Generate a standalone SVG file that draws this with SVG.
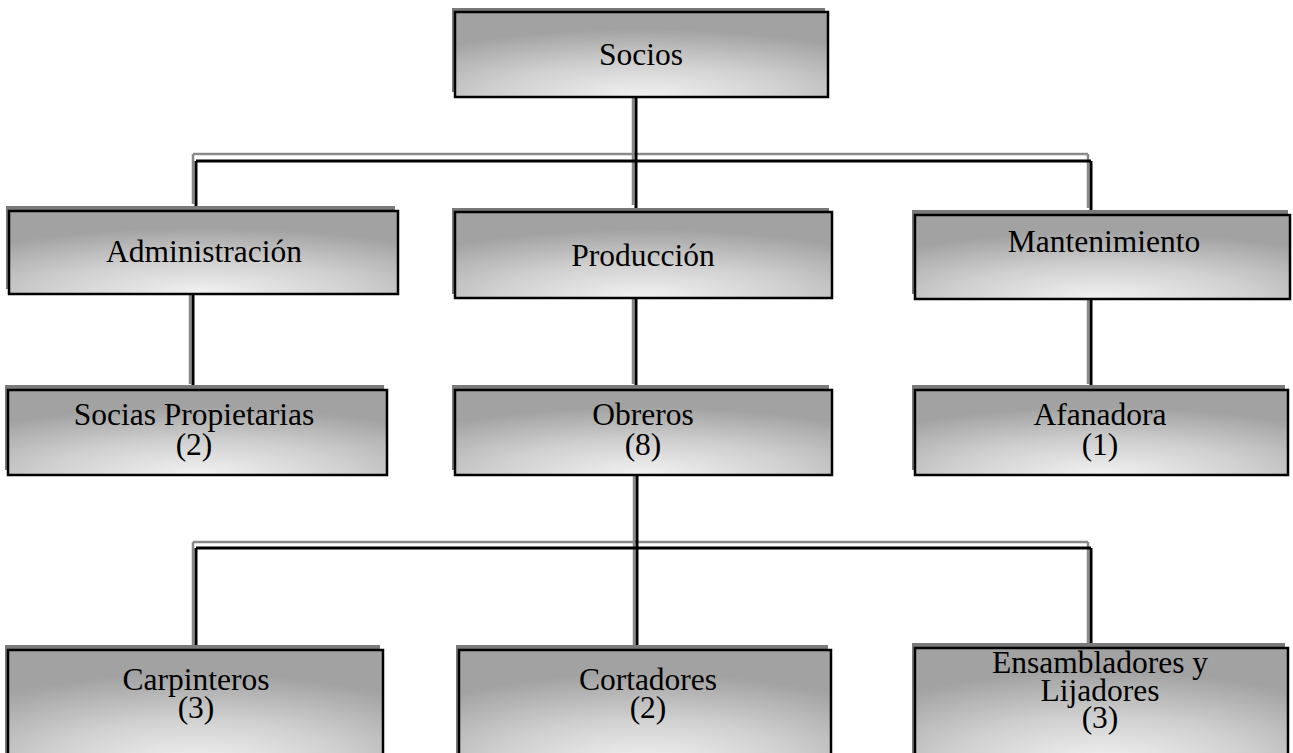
<svg xmlns="http://www.w3.org/2000/svg" width="1293" height="753" viewBox="0 0 1293 753">
<defs>
<radialGradient id="g" cx="0.5" cy="1" r="0.8" fx="0.5" fy="1">
<stop offset="0" stop-color="#f2f2f2"/>
<stop offset="0.5" stop-color="#d0d0d0"/>
<stop offset="1" stop-color="#a2a2a2"/>
</radialGradient>
</defs>
<style>
.sh{fill:#7a7a7a}
.bx{fill:url(#g);stroke:#000;stroke-width:2.5}
.t{font-family:"Liberation Serif","Times New Roman",serif;font-size:31.5px;fill:#000;text-anchor:middle}
.cs{fill:none;stroke:#8a8a8a;stroke-width:2.5}
.cb{fill:none;stroke:#000;stroke-width:3}
</style>
<g id="connectors">
<path class="cs" d="M633,90 V205 M193,154 H1088 M193,154 V204 M1088,154 V208 M190,288 V384 M633,291 V384 M1088,292 V384 M634,468 V645 M193,542 H1088 M193,542 V645 M1088,542 V645"/>
<path class="cb" d="M636,97 V212 M196,161 H1091 M196,161 V211 M1091,161 V215 M193,294 V390 M636,298 V390 M1091,299 V390 M637,476 V650 M196,548 H1091 M196,548 V650 M1091,548 V650"/>
</g>
<g id="socios">
<rect class="sh" x="452" y="8" width="373" height="84"/>
<rect class="bx" x="455" y="12" width="373" height="85"/>
<text class="t" x="641" y="65">Socios</text>
</g>
<g id="administracion">
<rect class="sh" x="6" y="206" width="389" height="83"/>
<rect class="bx" x="9" y="211" width="389" height="83"/>
<text class="t" x="204" y="262">Administración</text>
</g>
<g id="produccion">
<rect class="sh" x="452" y="208" width="377" height="86"/>
<rect class="bx" x="455" y="212" width="377" height="86"/>
<text class="t" x="643" y="266">Producción</text>
</g>
<g id="mantenimiento">
<rect class="sh" x="912" y="210" width="376" height="84"/>
<rect class="bx" x="915" y="215" width="375" height="84"/>
<text class="t" x="1104" y="252">Mantenimiento</text>
</g>
<g id="socias">
<rect class="sh" x="5" y="385" width="379" height="85"/>
<rect class="bx" x="8" y="390" width="379" height="85"/>
<text class="t" y="425"><tspan x="194">Socias Propietarias</tspan><tspan x="194" dy="30">(2)</tspan></text>
</g>
<g id="obreros">
<rect class="sh" x="452" y="385" width="377" height="85"/>
<rect class="bx" x="455" y="390" width="377" height="85"/>
<text class="t" y="425"><tspan x="643">Obreros</tspan><tspan x="643" dy="30">(8)</tspan></text>
</g>
<g id="afanadora">
<rect class="sh" x="912" y="385" width="373" height="85"/>
<rect class="bx" x="915" y="390" width="373" height="85"/>
<text class="t" y="425"><tspan x="1100">Afanadora</tspan><tspan x="1100" dy="30">(1)</tspan></text>
</g>
<g id="carpinteros">
<rect class="sh" x="5" y="645" width="375" height="115"/>
<rect class="bx" x="8" y="650" width="375" height="115"/>
<text class="t" y="690"><tspan x="196">Carpinteros</tspan><tspan x="196" dy="28">(3)</tspan></text>
</g>
<g id="cortadores">
<rect class="sh" x="456" y="645" width="372" height="115"/>
<rect class="bx" x="459" y="650" width="372" height="115"/>
<text class="t" y="690"><tspan x="648">Cortadores</tspan><tspan x="648" dy="28">(2)</tspan></text>
</g>
<g id="ensambladores">
<rect class="sh" x="912" y="643" width="373" height="115"/>
<rect class="bx" x="915" y="648" width="373" height="115"/>
<text class="t" y="673"><tspan x="1100">Ensambladores y</tspan><tspan x="1100" dy="28">Lijadores</tspan><tspan x="1100" dy="27">(3)</tspan></text>
</g>
</svg>
